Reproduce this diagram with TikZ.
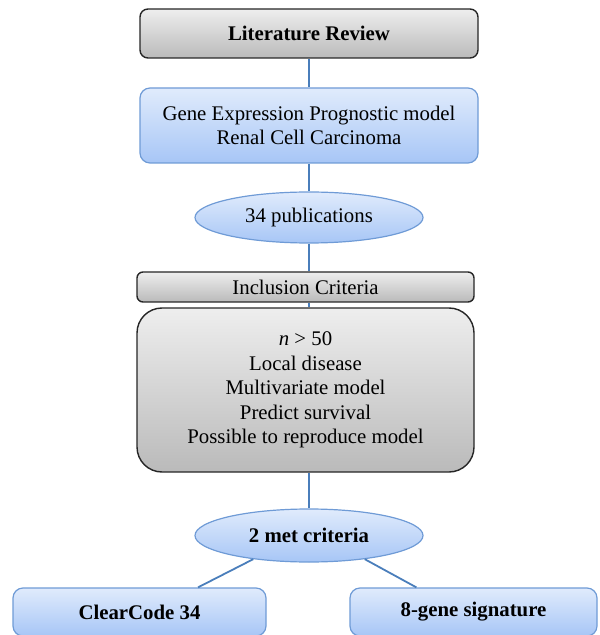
\documentclass[tikz,border=0pt]{standalone}
\usepackage{fontspec}
\setmainfont{Liberation Serif}
\usepackage{tikz}
\usetikzlibrary{shapes,calc}
\definecolor{linkblue}{HTML}{4A7EBB}
\definecolor{blueedge}{HTML}{6F9BD6}
\definecolor{bluetop}{HTML}{E0EBFC}
\definecolor{bluebot}{HTML}{A7C6F6}
\definecolor{greytop}{HTML}{EEEEEE}
\definecolor{greybot}{HTML}{BABABA}

\begin{document}
\begin{tikzpicture}
  [
    x=0.5pt, y=-0.5pt,
    font=\fontsize{10.4}{12.3}\selectfont,
    greybox/.style =
      {draw=black!85, line width=0.7pt, rectangle, rounded corners=4pt, align=center,
       top color=greytop, bottom color=greybot},
    bluebox/.style =
      {draw=blueedge, line width=0.6pt, rectangle, rounded corners=5pt, align=center,
       top color=bluetop, bottom color=bluebot},
    blueoval/.style =
      {draw=blueedge, line width=0.6pt, ellipse, align=center, inner sep=0pt,
       top color=bluetop, bottom color=bluebot},
    link/.style =
      {draw=linkblue, line width=0.9pt}
  ]
  \useasboundingbox (0,0) rectangle (599,635);
  \clip (0,0) rectangle (599,635);

  \node [greybox, minimum width=169pt, minimum height=24.5pt] at (309,33.5)  (lit)  {\textbf{Literature Review}};
  \node [bluebox, minimum width=169pt, minimum height=37.5pt] at (309,125.5) (gene) {Gene Expression Prognostic model\\Renal Cell Carcinoma};
  \node [blueoval, minimum width=114pt, minimum height=25.5pt] at (309,217.5) (pubs) {34 publications};
  \node [greybox, rounded corners=3pt, minimum width=168.5pt, minimum height=15pt] at (305.5,287) (incl) {Inclusion Criteria};
  \node [greybox, rounded corners=12.5pt, minimum width=168.5pt, minimum height=82pt] at (305.5,390) (crit)
    {\textit{n} > 50\\Local disease\\Multivariate model\\Predict survival\\Possible to reproduce model};
  \node [blueoval, minimum width=114pt, minimum height=26.5pt] at (309,535.5) (met) {\textbf{2 met criteria}};
  \node [bluebox, minimum width=126.5pt, minimum height=24pt] at (139.5,612) (clear) {\textbf{ClearCode 34}};
  \node [bluebox, minimum width=123.5pt, minimum height=24pt] at (473.5,612) (sig)   {\textbf{8-gene signature}};

  \draw [link] (lit.south)  -- (gene.north);
  \draw [link] (gene.south) -- (pubs.north);
  \draw [link] (pubs.south) -- (pubs.south |- incl.north);
  \draw [link] (pubs.south |- incl.south) -- (pubs.south |- crit.north);
  \draw [link] (met.north |- crit.south) -- (met.north);
  \draw [link] (met.203) -- ($(clear.north west)!0.73!(clear.north east)$);
  \draw [link] (met.337) -- ($(sig.north west)!0.27!(sig.north east)$);

\end{tikzpicture}
\end{document}
